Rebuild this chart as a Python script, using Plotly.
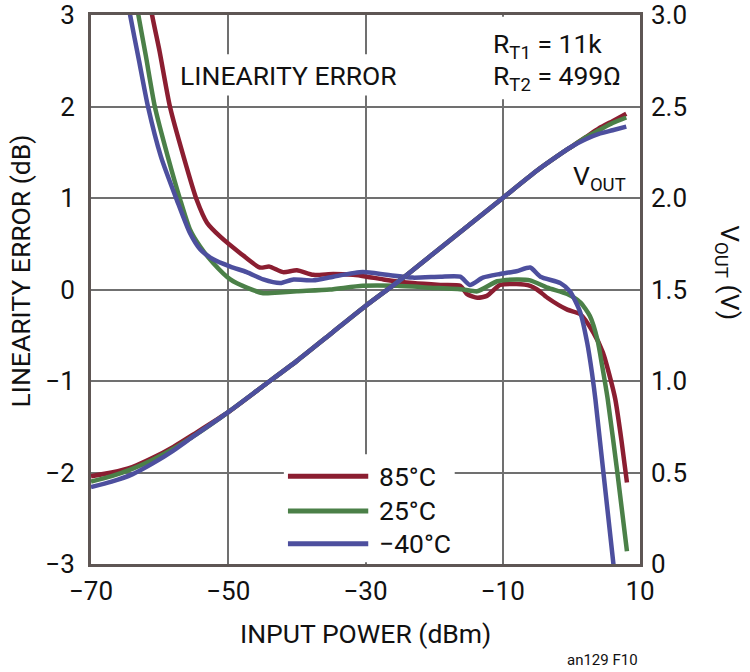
import plotly.graph_objects as go

# ---- data ----
temps = ["85°C", "25°C", "−40°C"]
colors = ["#8b1e31", "#4b8048", "#4d4f9e"]

red_le_x = [-62.0, -61.1, -60.0, -58.5, -56.5, -54.6, -53.1, -51.2, -48.3, -45.4, -44.0, -42.0, -40.0,
            -37.6, -34.7, -31.8, -29.8, -27.4, -23.1, -19.1, -16.2, -15.2, -13.7, -12.3, -10.4, -8.0,
            -6.0, -5.0, -3.5, -0.6, 1.3, 3.2, 4.6, 5.7, 6.4, 7.3, 8.1]
red_le_y = [3.4, 3.0, 2.6, 2.0, 1.45, 0.98, 0.73, 0.58, 0.40, 0.24, 0.25, 0.19, 0.21,
            0.16, 0.17, 0.16, 0.14, 0.11, 0.07, 0.05, 0.04, -0.05, -0.09, -0.07, 0.05, 0.06,
            0.04, 0.0, -0.09, -0.22, -0.27, -0.47, -0.69, -0.98, -1.2, -1.65, -2.11]

green_le_x = [-64.0, -63.1, -62.0, -60.7, -58.8, -57.0, -55.6, -54.1, -52.2, -49.7, -47.3, -44.9,
              -42.0, -40.0, -35.2, -30.4, -25.4, -20.6, -15.8, -13.7, -10.8, -8.0, -6.0, -3.5,
              -0.6, 1.3, 2.7, 3.8, 4.5, 5.3, 6.7, 8.1]
green_le_y = [3.4, 3.0, 2.55, 2.0, 1.45, 0.98, 0.66, 0.47, 0.29, 0.11, 0.02, -0.04,
              -0.03, -0.02, 0.0, 0.04, 0.04, 0.02, 0.0, -0.02, 0.09, 0.11, 0.10, 0.02,
              -0.05, -0.14, -0.29, -0.55, -0.84, -1.2, -2.0, -2.86]

blue_le_x = [-65.2, -64.3, -63.0, -61.7, -59.8, -57.5, -55.6, -54.1, -52.2, -49.7, -47.3, -44.9,
             -42.4, -40.5, -37.6, -34.7, -30.4, -26.9, -23.1, -19.1, -16.2, -14.8, -12.9, -10.4,
             -8.0, -6.0, -4.5, -1.6, -0.2, 1.3, 2.3, 3.0, 3.5, 6.2]
blue_le_y = [3.4, 3.0, 2.5, 2.0, 1.45, 0.98, 0.62, 0.44, 0.33, 0.25, 0.19, 0.11,
             0.07, 0.11, 0.10, 0.14, 0.19, 0.16, 0.13, 0.14, 0.14, 0.05, 0.13, 0.17,
             0.20, 0.24, 0.14, 0.07, -0.02, -0.25, -0.58, -0.91, -1.2, -3.05]

vout_x = [-70, -67, -64, -61, -58, -55, -50, -45, -40, -35, -30, -25, -20, -15, -10, -5, -2, 0, 2, 4, 6, 8]
red_vout = [0.48, 0.50, 0.53, 0.58, 0.64, 0.71, 0.83, 0.97, 1.11, 1.26, 1.41, 1.55, 1.70, 1.85, 2.00,
            2.15, 2.23, 2.28, 2.33, 2.38, 2.42, 2.46]
green_vout = [0.45, 0.48, 0.52, 0.57, 0.63, 0.70, 0.83, 0.97, 1.11, 1.26, 1.41, 1.55, 1.70, 1.85, 2.00,
              2.15, 2.23, 2.28, 2.33, 2.37, 2.41, 2.44]
blue_vout = [0.42, 0.45, 0.49, 0.55, 0.62, 0.70, 0.83, 0.97, 1.11, 1.26, 1.41, 1.55, 1.70, 1.85, 2.00,
             2.15, 2.23, 2.28, 2.32, 2.35, 2.37, 2.39]

x_ticks = [-70, -50, -30, -10, 10]
x_ticktext = ["−70", "−50", "−30", "−10", "10"]
le_ticks = [-3, -2, -1, 0, 1, 2, 3]
le_ticktext = ["−3", "−2", "−1", "0", "1", "2", "3"]
v_ticks = [0, 0.5, 1.0, 1.5, 2.0, 2.5, 3.0]
v_ticktext = ["0", "0.5", "1.0", "1.5", "2.0", "2.5", "3.0"]

FONT = "Roboto, Liberation Sans, sans-serif"
GRID = "#707070"
FRAME = "#5e5654"
LW = 4.5
TS = 26  # tick font size
LS = 26.5  # label font size

fig = go.Figure()
le_series = [(red_le_x, red_le_y), (green_le_x, green_le_y), (blue_le_x, blue_le_y)]
v_series = [red_vout, green_vout, blue_vout]
for (xs, ys), c, name in zip(le_series, colors, temps):
    fig.add_trace(go.Scatter(x=xs, y=ys, mode="lines", name=name,
                             line=dict(color=c, width=LW, shape="spline", smoothing=0.6),
                             yaxis="y"))
for vs, c, name in zip(v_series, colors, temps):
    fig.add_trace(go.Scatter(x=vout_x, y=vs, mode="lines", name=name, showlegend=False,
                             line=dict(color=c, width=LW, shape="spline", smoothing=0.6),
                             yaxis="y2"))

fig.update_layout(
    width=750, height=672,
    margin=dict(l=91, r=110, t=15, b=108, autoexpand=False),
    plot_bgcolor="white", paper_bgcolor="white",
    showlegend=False,
    font=dict(family=FONT, color="#111111", size=TS),
    xaxis=dict(range=[-70, 10], tickvals=x_ticks, ticktext=x_ticktext,
               showgrid=True, gridcolor=GRID, gridwidth=1.5, zeroline=False,
               showline=True, linecolor=FRAME, linewidth=3, mirror=True,
               ticks="", tickfont=dict(size=TS), automargin=False,
               ticklabeloverflow="allow", ticklabelstandoff=2),
    yaxis=dict(range=[-3, 3], tickvals=le_ticks, ticktext=le_ticktext,
               showgrid=True, gridcolor=GRID, gridwidth=1.5, zeroline=False,
               showline=True, linecolor=FRAME, linewidth=3, mirror=True,
               ticks="", tickfont=dict(size=TS), ticklabelstandoff=8, automargin=False,
               ticklabeloverflow="allow"),
    yaxis2=dict(range=[0, 3], tickvals=v_ticks, ticktext=v_ticktext, overlaying="y",
                side="right", showgrid=False, zeroline=False, showline=False,
                ticks="", tickfont=dict(size=TS), ticklabelstandoff=10, automargin=False,
                ticklabeloverflow="allow"),
)

# white patches behind texts (above grid, below traces)
def white_rect(x0, x1, y0, y1):
    fig.add_shape(type="rect", xref="x", yref="y", x0=x0, x1=x1, y0=y0, y1=y1,
                  fillcolor="white", line=dict(width=0), layer="between")

white_rect(-57.8, -25.0, 2.12, 2.57)   # LINEARITY ERROR label
white_rect(-12.5, 9.6, 2.08, 2.98)     # R_T label
white_rect(-41.9, -17.0, -2.98, -1.8)  # legend

ann = []
ann.append(dict(x=-57.3, y=2.34, xref="x", yref="y", text="LINEARITY ERROR", showarrow=False,
                xanchor="left", yanchor="middle", font=dict(size=LS)))
ann.append(dict(x=-11.7, y=2.66, xref="x", yref="y", text="R<sub>T1</sub> = 11k", showarrow=False,
                xanchor="left", yanchor="middle", font=dict(size=LS)))
ann.append(dict(x=-11.7, y=2.31, xref="x", yref="y", text="R<sub>T2</sub> = 499Ω", showarrow=False,
                xanchor="left", yanchor="middle", font=dict(size=LS)))
ann.append(dict(x=8.3, y=1.22, xref="x", yref="y", text="V<sub>OUT</sub>", showarrow=False,
                xanchor="right", yanchor="middle", font=dict(size=LS)))

# legend (manual)
leg_y = [-2.04, -2.42, -2.78]
for c, name, ly in zip(colors, temps, leg_y):
    fig.add_shape(type="line", xref="x", yref="y", x0=-41.3, x1=-29.6, y0=ly, y1=ly,
                  line=dict(color=c, width=5))
    ann.append(dict(x=-28.3, y=ly, xref="x", yref="y", text=name, showarrow=False,
                    xanchor="left", yanchor="middle", font=dict(size=LS)))

# axis titles
ann.append(dict(x=0.5, y=-0.126, xref="paper", yref="paper", text="INPUT POWER (dBm)",
                showarrow=False, xanchor="center", yanchor="middle", font=dict(size=LS)))
ann.append(dict(x=-0.128, y=0.534, xref="paper", yref="paper", text="LINEARITY ERROR (dB)",
                showarrow=False, xanchor="center", yanchor="middle", textangle=-90,
                font=dict(size=LS)))
ann.append(dict(x=1.16, y=0.53, xref="paper", yref="paper", text="V<sub>OUT</sub> (V)",
                showarrow=False, xanchor="center", yanchor="middle", textangle=90,
                font=dict(size=LS)))
ann.append(dict(x=1.0, y=-0.175, xref="paper", yref="paper", text="an129 F10",
                showarrow=False, xanchor="right", yanchor="middle", font=dict(size=15)))
fig.update_layout(annotations=ann)

# remove the default 8px page margin so the figure sits at the window's top-left corner
fig.write_html("out.html", config={"displayModeBar": False},
               post_script="document.body.style.margin='0';")
